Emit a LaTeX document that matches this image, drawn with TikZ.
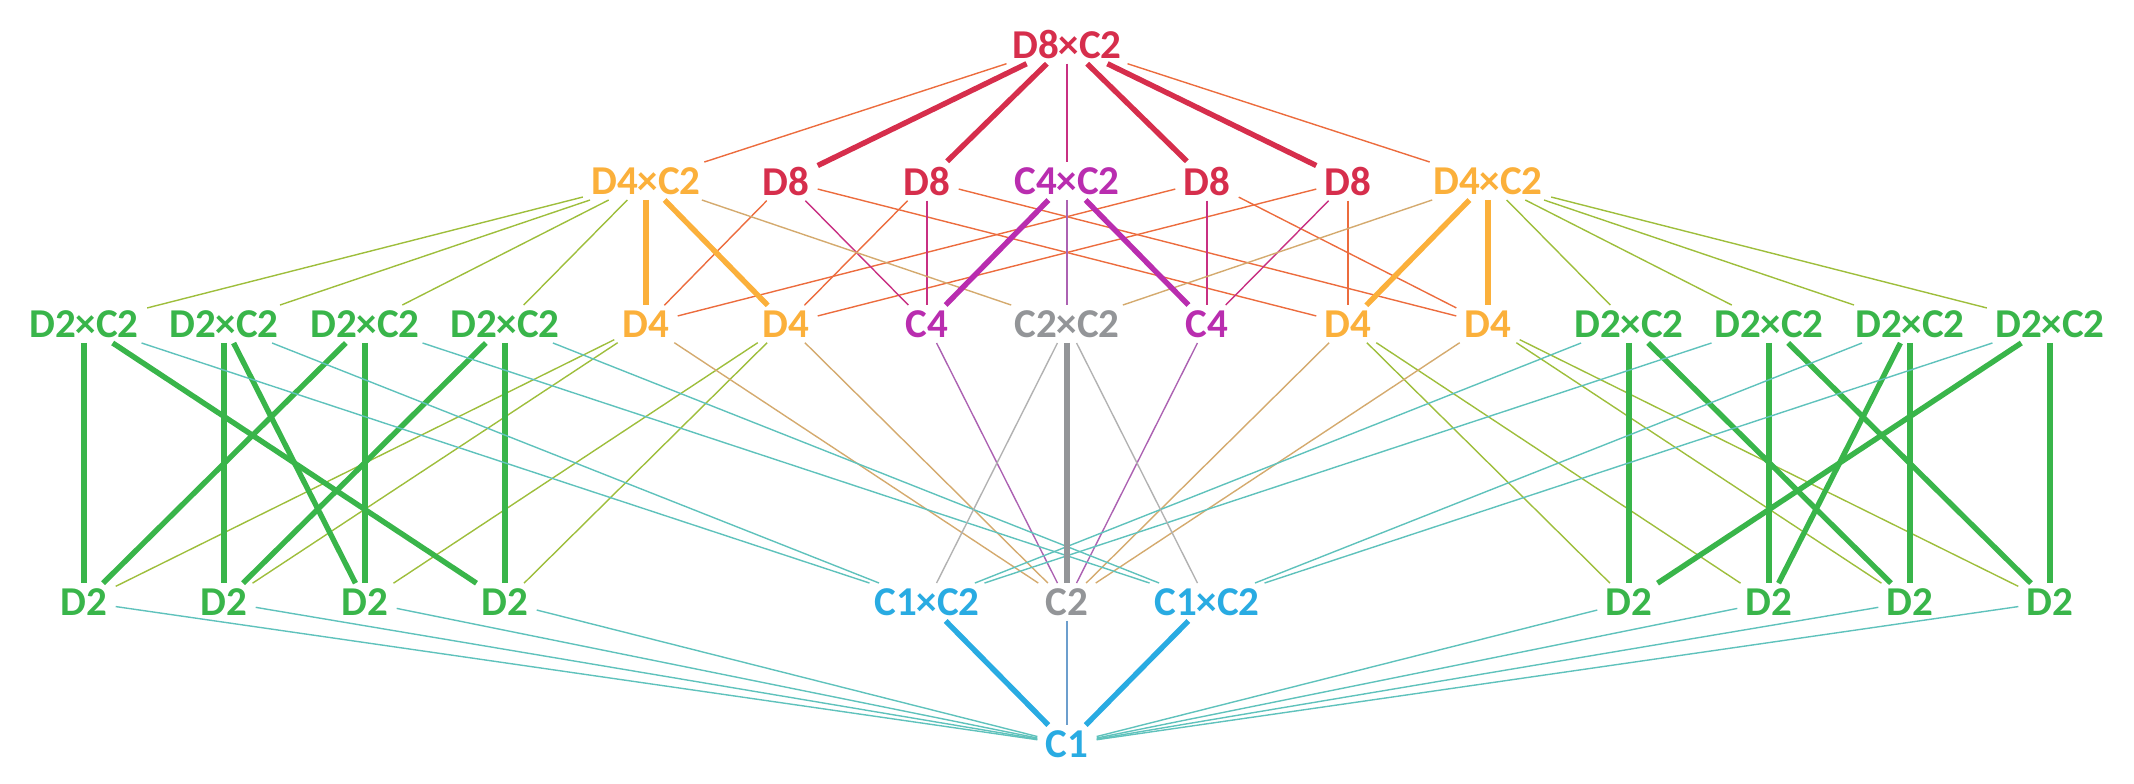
\documentclass[tikz,border=0pt]{standalone}
\usepackage{fontspec}
\setmainfont{Carlito}
\usepackage{xcolor}
\definecolor{grpred}{RGB}{214,46,76}
\definecolor{grporange}{RGB}{251,176,59}
\definecolor{grpmagenta}{RGB}{185,45,175}
\definecolor{grpgray}{RGB}{147,149,152}
\definecolor{grpgreen}{RGB}{57,181,74}
\definecolor{grpblue}{RGB}{41,171,226}
\definecolor{redorange}{RGB}{236,108,62}
\definecolor{redmagenta}{RGB}{200,48,130}
\definecolor{orangegreen}{RGB}{158,190,60}
\definecolor{orangegray}{RGB}{212,170,110}
\definecolor{magentagray}{RGB}{172,98,178}
\definecolor{greenblue}{RGB}{95,194,188}
\definecolor{lightgray}{RGB}{178,178,178}
\definecolor{grayblue}{RGB}{108,158,205}
\usepackage{tikz}
\usetikzlibrary{positioning,calc}

\begin{document}
\begin{tikzpicture}[
        x=0.5pt, y=-0.5pt,
        grp/.style={font=\bfseries\fontsize{20.5}{24}\selectfont, inner xsep=4pt, inner ysep=2.5pt},
        bold/.style={line width=2.7pt},
        fine/.style={line width=0.7pt}
    ]
        \useasboundingbox (0,0) rectangle (2134,783);

        \node[grp, text=grpred] (top) at (1067,44) {D8×C2};

        \node[grp, text=grporange] (d4c2l) at (646,181) {D4×C2};
        \node[grp, text=grpred] (d8a) at (786,181) {D8};
        \node[grp, text=grpred] (d8b) at (927,181) {D8};
        \node[grp, text=grpmagenta] (c4c2) at (1067,181) {C4×C2};
        \node[grp, text=grpred] (d8c) at (1207,181) {D8};
        \node[grp, text=grpred] (d8d) at (1348,181) {D8};
        \node[grp, text=grporange] (d4c2r) at (1488,181) {D4×C2};

        \foreach \x/\n in {84/d2c2a,224/d2c2b,365/d2c2c,505/d2c2d,1629/d2c2e,1769/d2c2f,1910/d2c2g,2050/d2c2h} {
            \node[grp, text=grpgreen] (\n) at (\x,324) {D2×C2};
        }
        \foreach \x/\n in {646/d4a,786/d4b,1348/d4c,1488/d4d} {
            \node[grp, text=grporange] (\n) at (\x,324) {D4};
        }
        \node[grp, text=grpmagenta] (c4a) at (927,324) {C4};
        \node[grp, text=grpgray] (c2c2) at (1067,324) {C2×C2};
        \node[grp, text=grpmagenta] (c4b) at (1207,324) {C4};

        \foreach \x/\n in {84/d2a,224/d2b,365/d2c,505/d2d,1629/d2e,1769/d2f,1910/d2g,2050/d2h} {
            \node[grp, text=grpgreen] (\n) at (\x,602) {D2};
        }
        \node[grp, text=grpblue] (c1c2l) at (927,602) {C1×C2};
        \node[grp, text=grpgray] (c2) at (1067,602) {C2};
        \node[grp, text=grpblue] (c1c2r) at (1207,602) {C1×C2};

        \node[grp, text=grpblue] (c1) at (1067,744) {C1};

        \foreach \a/\b in {top/d8a,top/d8b,top/d8c,top/d8d} {
            \draw[bold, grpred] (\a) -- (\b);
        }
        \foreach \a/\b in {top/d4c2l,top/d4c2r,d8a/d4a,d8a/d4c,d8b/d4b,d8b/d4d,d8c/d4a,d8c/d4d,d8d/d4b,d8d/d4c} {
            \draw[fine, redorange] (\a) -- (\b);
        }
        \foreach \a/\b in {top/c4c2,d8a/c4a,d8b/c4a,d8c/c4b,d8d/c4b} {
            \draw[fine, redmagenta] (\a) -- (\b);
        }
        \foreach \a/\b in {d4c2l/d4a,d4c2l/d4b,d4c2r/d4c,d4c2r/d4d} {
            \draw[bold, grporange] (\a) -- (\b);
        }
        \foreach \a/\b in {d4c2l/d2c2a,d4c2l/d2c2b,d4c2l/d2c2c,d4c2l/d2c2d,d4c2r/d2c2e,d4c2r/d2c2f,d4c2r/d2c2g,d4c2r/d2c2h,
                d4a/d2a,d4a/d2b,d4b/d2c,d4b/d2d,d4c/d2e,d4c/d2f,d4d/d2g,d4d/d2h} {
            \draw[fine, orangegreen] (\a) -- (\b);
        }
        \foreach \a/\b in {d4c2l/c2c2,d4c2r/c2c2,d4a/c2,d4b/c2,d4c/c2,d4d/c2} {
            \draw[fine, orangegray] (\a) -- (\b);
        }
        \foreach \a/\b in {c4c2/c4a,c4c2/c4b} {
            \draw[bold, grpmagenta] (\a) -- (\b);
        }
        \foreach \a/\b in {c4c2/c2c2,c4a/c2,c4b/c2} {
            \draw[fine, magentagray] (\a) -- (\b);
        }
        \foreach \a/\b in {d2c2a/d2a,d2c2a/d2d,d2c2b/d2b,d2c2b/d2c,d2c2c/d2c,d2c2c/d2a,d2c2d/d2d,d2c2d/d2b,
                d2c2e/d2e,d2c2e/d2g,d2c2f/d2f,d2c2f/d2h,d2c2g/d2g,d2c2g/d2f,d2c2h/d2h,d2c2h/d2e} {
            \draw[bold, grpgreen] (\a) -- (\b);
        }
        \foreach \a/\b in {d2c2a/c1c2l,d2c2b/c1c2l,d2c2c/c1c2r,d2c2d/c1c2r,d2c2e/c1c2l,d2c2f/c1c2l,d2c2g/c1c2r,d2c2h/c1c2r,
                d2a/c1,d2b/c1,d2c/c1,d2d/c1,d2e/c1,d2f/c1,d2g/c1,d2h/c1} {
            \draw[fine, greenblue] (\a) -- (\b);
        }
        \draw[bold, grpgray] (c2c2) -- (c2);
        \draw[fine, lightgray] (c2c2) -- (c1c2l);
        \draw[fine, lightgray] (c2c2) -- (c1c2r);
        \draw[bold, grpblue] (c1c2l) -- (c1);
        \draw[bold, grpblue] (c1c2r) -- (c1);
        \draw[fine, grayblue] (c2) -- (c1);
    \end{tikzpicture}
\end{document}
